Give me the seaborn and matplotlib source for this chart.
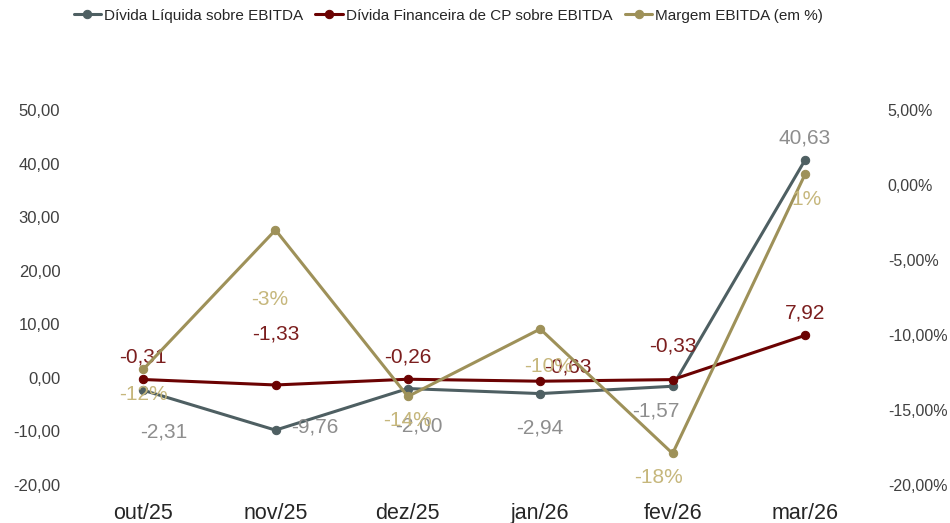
import matplotlib
matplotlib.use("Agg")
import matplotlib.pyplot as plt
import pandas as pd
import seaborn as sns
from matplotlib.ticker import FuncFormatter

meses = ["out/25", "nov/25", "dez/25", "jan/26", "fev/26", "mar/26"]
divida_liquida = [-2.31, -9.76, -2.00, -2.94, -1.57, 40.63]
divida_cp = [-0.31, -1.33, -0.26, -0.63, -0.33, 7.92]
margem_ebitda = [-12.3, -3.0, -14.1, -9.6, -17.9, 0.7]  # em %

# label offsets (points) per series, per point
off_liq = [(15, -30), (28, 2), (8, -27), (0, -25), (-12, -18), (0, 16)]
off_cp = [(0, 16), (0, 37), (0, 16), (20, 10), (0, 24), (0, 16)]
off_mg = [(0, -18), (-4, -50), (0, -17), (6, -27), (-10, -17), (1, -18)]

c_liq, c_liq_txt = "#4E5F62", "#8E8E8E"
c_cp, c_cp_txt = "#6B0202", "#7B1E1E"
c_mg, c_mg_txt = "#9E9159", "#C6B77C"

df = pd.DataFrame({"mes": meses, "liq": divida_liquida, "cp": divida_cp, "mg": margem_ebitda})

sns.set_style("white")
plt.rcParams["font.family"] = ["Liberation Sans", "DejaVu Sans"]

fig = plt.figure(figsize=(9.5, 5.23), dpi=100)
ax = fig.add_axes([0.081, 0.0727, 0.836, 0.717])
ax2 = ax.twinx()

sns.lineplot(data=df, x="mes", y="liq", ax=ax, color=c_liq, marker="o", markersize=6,
             linewidth=2.2, markeredgecolor=c_liq, label="Dívida Líquida sobre EBITDA", legend=False)
sns.lineplot(data=df, x="mes", y="cp", ax=ax, color=c_cp, marker="o", markersize=6,
             linewidth=2.2, markeredgecolor=c_cp, label="Dívida Financeira de CP sobre EBITDA", legend=False)
sns.lineplot(data=df, x="mes", y="mg", ax=ax2, color=c_mg, marker="o", markersize=6,
             linewidth=2.2, markeredgecolor=c_mg, label="Margem EBITDA (em %)", legend=False)

def fmt(v, dec=2):
    return f"{v:.{dec}f}".replace(".", ",")

for i, m in enumerate(meses):
    ax.annotate(fmt(divida_liquida[i]), (i, divida_liquida[i]), xytext=off_liq[i],
                textcoords="offset points", ha="center", va="center", fontsize=15, color=c_liq_txt)
    ax.annotate(fmt(divida_cp[i]), (i, divida_cp[i]), xytext=off_cp[i],
                textcoords="offset points", ha="center", va="center", fontsize=15, color=c_cp_txt)
    ax2.annotate(fmt(margem_ebitda[i], 0) + "%", (i, margem_ebitda[i]), xytext=off_mg[i],
                 textcoords="offset points", ha="center", va="center", fontsize=15, color=c_mg_txt)

ax.set_xlim(-0.5, 5.5)
ax.set_ylim(-20, 50)
ax.set_yticks(range(-20, 51, 10))
ax2.set_ylim(-20, 5)
ax2.set_yticks(range(-20, 6, 5))
ax.yaxis.set_major_formatter(FuncFormatter(lambda v, p: fmt(v)))
ax2.yaxis.set_major_formatter(FuncFormatter(lambda v, p: fmt(v) + "%"))
ax.set_xlabel("")
ax.set_ylabel("")
ax2.set_ylabel("")

for a in (ax, ax2):
    for s in a.spines.values():
        s.set_visible(False)
    a.tick_params(length=0, labelsize=12, colors="#404040")
    a.grid(False)
ax.tick_params(axis="y", pad=12)
ax2.tick_params(axis="y", pad=12, labelsize=11.5)
ax.tick_params(axis="x", labelsize=15.5, pad=13, colors="#262626")

h1, l1 = ax.get_legend_handles_labels()
h2, l2 = ax2.get_legend_handles_labels()
fig.legend(h1 + h2, l1 + l2, loc="upper center", bbox_to_anchor=(0.472, 1.01), ncol=3,
           frameon=False, fontsize=11, handlelength=1.8, columnspacing=0.8, handletextpad=0.2,
           labelcolor="#262626")

fig.savefig("out.png", dpi=100)
